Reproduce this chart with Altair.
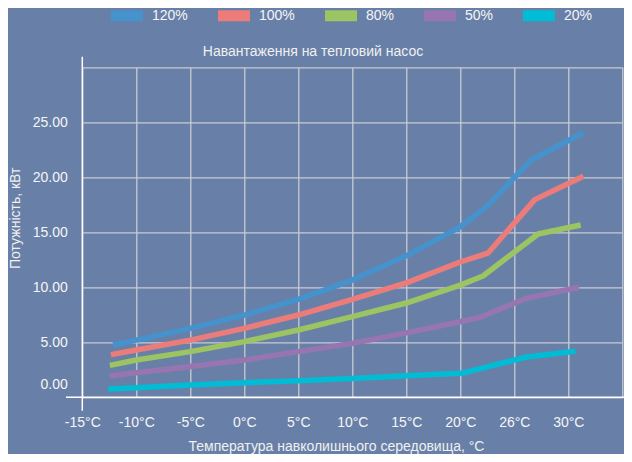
import altair as alt
import pandas as pd

FONT = "Liberation Sans"
BG = "#6880a8"

series = ["120%", "100%", "80%", "50%", "20%"]
colors = ["#4592cc", "#ec7c7a", "#9dc462", "#9675b0", "#00bcd4"]
x_labels = ["-15°C", "-10°C", "-5°C", "0°C", "5°C", "10°C", "15°C", "20°C", "26°C", "30°C", ""]

# x given in axis slot units (0 = "-15°C" slot ... 9 = "30°C" slot)
x_120 = [0.57, 1, 2, 3, 4, 5, 6, 7, 7.49, 8.31, 9.28]
y_120 = [4.75, 5.2, 6.27, 7.48, 8.9, 10.66, 12.86, 15.5, 17.33, 21.57, 24.05]

x_100 = [0.53, 1, 2, 3, 4, 5, 6, 7, 7.51, 8.38, 9.28]
y_100 = [3.88, 4.3, 5.2, 6.27, 7.48, 8.9, 10.4, 12.3, 13.1, 17.97, 20.1]

x_80 = [0.51, 1, 2, 3, 4, 5, 6, 7, 7.42, 8.44, 9.23]
y_80 = [2.9, 3.39, 4.15, 5.06, 6.12, 7.33, 8.57, 10.2, 11.03, 14.85, 15.66]

x_50 = [0.51, 1, 2, 3, 4, 5, 6, 7, 7.36, 8.23, 9.2]
y_50 = [1.94, 2.24, 2.8, 3.39, 4.15, 4.9, 5.86, 6.87, 7.27, 9.0, 10.0]

x_20 = [0.48, 1, 2, 3, 4, 5, 6, 7.02, 8.2, 9.13]
y_20 = [0.75, 0.87, 1.12, 1.33, 1.5, 1.72, 1.95, 2.18, 3.64, 4.18]

y_ticks = [0, 5, 10, 15, 20, 25, 30]

rows = []
for name, xs, ys in [("120%", x_120, y_120), ("100%", x_100, y_100), ("80%", x_80, y_80),
                     ("50%", x_50, y_50), ("20%", x_20, y_20)]:
    for xv, yv in zip(xs, ys):
        rows.append({"series": name, "x": xv, "value": yv})
df = pd.DataFrame(rows)

W, H = 540, 330
label_list = "[" + ",".join("'" + s + "'" for s in x_labels) + "]"

x_axis = alt.Axis(
    values=list(range(len(x_labels))),
    labelExpr=label_list + "[datum.value]",
    grid=True, gridColor="#c8cbd2", gridWidth=1.3,
    domain=False, ticks=False, tickSize=0,
    labelPadding=18, labelFontSize=14, labelFont=FONT, labelColor="#f5f5f5",
    labelBaseline="top", labelFlush=False, labelOverlap=False,
    title="Температура навколишнього середовища, °C",
    titleX=253.7, titleY=49.5, titleAlign="center", titleBaseline="middle",
    titleFontSize=14, titleFont=FONT, titleFontWeight="normal", titleColor="#f0f0f0",
)

y_axis = alt.Axis(
    values=y_ticks,
    labelExpr="datum.value == 30 ? '' : format(datum.value, '.2f')",
    labelOffset={"condition": {"test": "datum.value == 0", "value": -13}, "value": 0},
    grid=True, gridColor="#c8cbd2", gridWidth=1.3,
    domain=False, ticks=False, tickSize=0,
    labelPadding=15, labelFontSize=14, labelFont=FONT, labelColor="#f5f5f5",
    labelBaseline="middle", labelFlush=False, labelOverlap=False,
    title="Потужність, кВт",
    titleX=-66.5, titleY=150.5, titleAngle=-90, titleAlign="center", titleBaseline="middle",
    titleFontSize=14, titleFont=FONT, titleFontWeight="normal", titleColor="#f0f0f0",
)

legend = alt.Legend(
    orient="none", legendX=23.2, legendY=-73.3, direction="horizontal", title=None,
    symbolType="M-1,0H1", symbolSize=1024, symbolStrokeWidth=11,
    labelOffset=3.5, columnPadding=7, padding=0,
    labelFontSize=14, labelFont=FONT, labelColor="#f5f5f5",
)

lines = alt.Chart(df).mark_line(strokeCap="butt", strokeJoin="round").encode(
    x=alt.X("x:Q", scale=alt.Scale(domain=[0, 10], nice=False, zero=False), axis=x_axis),
    y=alt.Y("value:Q", scale=alt.Scale(domain=[0, 30], nice=False), axis=y_axis),
    color=alt.Color("series:N", scale=alt.Scale(domain=series, range=colors), legend=legend,
                    sort=series),
    strokeWidth=alt.value(5.5),
    order=alt.Order("x:Q"),
)

one = alt.Data(values=[{"k": 1}])
x_domain = alt.Chart(one).mark_rule(color="#ffffff", strokeWidth=1.5).encode(
    x=alt.value(-16.3), x2=alt.value(W + 12), y=alt.value(H)
)
y_domain = alt.Chart(one).mark_rule(color="#ffffff", strokeWidth=1.5).encode(
    x=alt.value(0), y=alt.value(-10.6), y2=alt.value(H + 13.5)
)
title = alt.Chart(alt.Data(values=[{"t": "Навантаження на тепловий насос"}])).mark_text(
    font=FONT, fontSize=14, color="#f0f0f0", align="center", baseline="middle"
).encode(text="t:N", x=alt.value(230.7), y=alt.value(-15.5))

chart = alt.layer(lines, x_domain, y_domain, title).properties(
    width=W, height=H,
    autosize=alt.AutoSizeParams(type="none"),
    padding={"left": 74.3, "top": 59.3, "right": 1.7, "bottom": 56.7},
    background=BG,
).configure_view(stroke=None)

chart.save("out.html", embed_options={"renderer": "svg", "actions": False})
